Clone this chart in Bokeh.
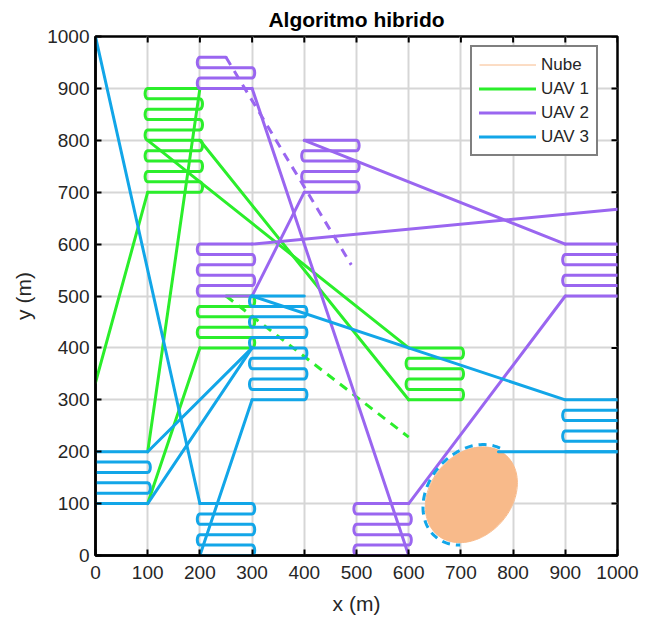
import numpy as np
from bokeh.plotting import figure
from bokeh.models import Range1d, FixedTicker, Legend, LegendItem
from bokeh.embed import file_html
from bokeh.resources import INLINE

# ---------------- data ----------------
ticks = [0, 100, 200, 300, 400, 500, 600, 700, 800, 900, 1000]
sweep_step = 20

# UAV 1 (green): transit segments
uav1_tx0 = [0, 100, 100, 100, 200]
uav1_ty0 = [333, 200, 100, 800, 800]
uav1_tx1 = [100, 200, 200, 600, 600]
uav1_ty1 = [700, 900, 400, 400, 300]
# UAV 1 sweep cells
uav1_cx0 = [100, 200, 600]
uav1_cx1 = [200, 300, 700]
uav1_cy_first = [700, 400, 300]
uav1_cy_last = [900, 500, 400]
uav1_start_left = [True, True, True]
uav1_first_x = [None, None, None]
uav1_last_x = [None, 250, None]
uav1_dash_x = [250, 600]
uav1_dash_y = [500, 228]

# UAV 2 (purple)
uav2_tx0 = [300, 600, 900, 400, 300]
uav2_ty0 = [900, 100, 600, 700, 600]
uav2_tx1 = [600, 900, 400, 300, 1000]
uav2_ty1 = [0, 500, 800, 500, 667]
uav2_cx0 = [200, 400, 200, 900, 500]
uav2_cx1 = [300, 500, 300, 1000, 600]
uav2_cy_first = [960, 800, 500, 500, 0]
uav2_cy_last = [900, 700, 600, 600, 100]
uav2_start_left = [False, True, False, True, False]
uav2_first_x = [250, None, None, None, None]
uav2_last_x = [None, None, None, None, None]
uav2_dash_x = [250, 490]
uav2_dash_y = [960, 560]

# UAV 3 (blue)
uav3_tx0 = [0, 200, 100, 100, 300, 1000]
uav3_ty0 = [1000, 0, 200, 100, 500, 200]
uav3_tx1 = [200, 300, 300, 300, 900, 772]
uav3_ty1 = [100, 300, 400, 400, 300, 200]
uav3_cx0 = [200, 300, 0, 900]
uav3_cx1 = [300, 400, 100, 1000]
uav3_cy_first = [100, 300, 200, 300]
uav3_cy_last = [0, 500, 100, 200]
uav3_start_left = [True, True, False, True]
uav3_first_x = [None, None, None, None]
uav3_last_x = [None, None, None, None]

# Cloud (Nube) ellipse
cloud_cx = 720
cloud_cy = 117
cloud_a = 101
cloud_b = 78
cloud_angle_deg = 50
# UAV 3 detour arc around the cloud (parametric angle range, degrees)
arc_t_start = 11
arc_t_end = 214
arc_scale = 1.05

GREEN = "#2BEE2B"
PURPLE = "#9A66F0"
BLUE = "#12A6E8"
ORANGE = "#F8BA8A"
FONT = "Liberation Sans"


def lawnmower(x0, x1, y_first, y_last, step, start_left, first_x=None, last_x=None, bulge=5):
    n = int(round(abs(y_last - y_first) / step)) + 1
    sgn = 1 if y_last > y_first else -1
    xs, ys = [], []
    left = start_left
    for i in range(n):
        y = y_first + sgn * i * step
        xa, xb = (x0, x1) if left else (x1, x0)
        if i == 0 and first_x is not None:
            xa = first_x
        if i == n - 1 and last_x is not None:
            xb = last_x
        xs += [xa, xb]
        ys += [y, y]
        if i < n - 1:
            ang = np.linspace(-np.pi / 2, np.pi / 2, 9)[1:-1]
            out = 1 if xb == x1 else -1
            yc = y + sgn * step / 2
            xs += list(xb + out * bulge * np.cos(ang))
            ys += list(yc + sgn * (step / 2) * np.sin(ang))
        left = not left
    return xs, ys


def cells(cx0, cx1, cyf, cyl, sl, fx, lx):
    XS, YS = [], []
    for a, b, f, l, s, f_x, l_x in zip(cx0, cx1, cyf, cyl, sl, fx, lx):
        xs, ys = lawnmower(a, b, f, l, sweep_step, s, f_x, l_x)
        XS.append(xs)
        YS.append(ys)
    return XS, YS


def transits(x0, y0, x1, y1):
    return [[a, b] for a, b in zip(x0, x1)], [[a, b] for a, b in zip(y0, y1)]


def ellipse_pts(t_deg, scale=1.0):
    t = np.radians(t_deg)
    th = np.radians(cloud_angle_deg)
    ex = scale * cloud_a * np.cos(t)
    ey = scale * cloud_b * np.sin(t)
    return (cloud_cx + ex * np.cos(th) - ey * np.sin(th),
            cloud_cy + ex * np.sin(th) + ey * np.cos(th))


# ---------------- figure ----------------
p = figure(width=659, height=620, x_range=Range1d(0, 1000), y_range=Range1d(0, 1000),
           output_backend="svg", toolbar_location=None,
           min_border_left=95, min_border_right=42, min_border_top=36, min_border_bottom=65,
           title="Algoritmo hibrido")
p.title.align = "center"
p.title.vertical_align = "middle"
p.title.text_font = FONT
p.title.text_font_size = "21px"
p.title.text_font_style = "bold"
p.title.text_color = "black"

p.outline_line_color = "black"
p.outline_line_width = 2.5
p.outline_line_alpha = 1.0

for ax in (p.xaxis[0], p.yaxis[0]):
    ax.ticker = FixedTicker(ticks=ticks)
    ax.major_tick_in = 6
    ax.major_tick_out = 0
    ax.minor_tick_line_color = None
    ax.major_tick_line_color = "black"
    ax.major_tick_line_width = 2
    ax.axis_line_color = "black"
    ax.axis_line_width = 2.5
    ax.major_label_text_font = FONT
    ax.major_label_text_font_size = "19px"
    ax.major_label_text_color = "#262626"
    ax.axis_label_text_font = FONT
    ax.axis_label_text_font_size = "21px"
    ax.axis_label_text_font_style = "normal"
    ax.axis_label_text_color = "#262626"
p.xaxis.axis_label = "x (m)"
p.yaxis.axis_label = "y (m)"
p.xaxis.major_label_standoff = 10
p.yaxis.major_label_standoff = 6
p.xaxis.axis_label_standoff = 10
p.yaxis.axis_label_standoff = 9

p.xgrid.grid_line_color = "#d6d6d6"
p.ygrid.grid_line_color = "#d6d6d6"
p.xgrid.grid_line_width = 2
p.ygrid.grid_line_width = 2
p.xgrid.ticker = FixedTicker(ticks=ticks)
p.ygrid.ticker = FixedTicker(ticks=ticks)

# inward tick marks on the top and right edges of the box
tick_len = 11.5
n_t = len(ticks)
p.segment(x0=ticks, y0=[1000] * n_t, x1=ticks, y1=[1000 - tick_len] * n_t,
          line_color="black", line_width=2)
p.segment(x0=[1000] * n_t, y0=ticks, x1=[1000 - tick_len] * n_t, y1=ticks,
          line_color="black", line_width=2)

# cloud
p.ellipse(x=[cloud_cx], y=[cloud_cy], width=[2 * cloud_a], height=[2 * cloud_b],
          angle=[np.radians(cloud_angle_deg)], fill_color=ORANGE, line_color=None)
bx, by = ellipse_pts(np.linspace(0, 360, 121))
r_nube = p.line(list(bx), list(by), line_color=ORANGE, line_width=1)

LW = 3
renderers = {}
for name, col, tx0, ty0, tx1, ty1, cdef in [
    ("UAV 1", GREEN, uav1_tx0, uav1_ty0, uav1_tx1, uav1_ty1,
     (uav1_cx0, uav1_cx1, uav1_cy_first, uav1_cy_last, uav1_start_left, uav1_first_x, uav1_last_x)),
    ("UAV 2", PURPLE, uav2_tx0, uav2_ty0, uav2_tx1, uav2_ty1,
     (uav2_cx0, uav2_cx1, uav2_cy_first, uav2_cy_last, uav2_start_left, uav2_first_x, uav2_last_x)),
    ("UAV 3", BLUE, uav3_tx0, uav3_ty0, uav3_tx1, uav3_ty1,
     (uav3_cx0, uav3_cx1, uav3_cy_first, uav3_cy_last, uav3_start_left, uav3_first_x, uav3_last_x)),
]:
    XS, YS = cells(*cdef)
    p.multi_line(XS, YS, line_color=col, line_width=LW, line_join="round", line_cap="round")
    TX, TY = transits(tx0, ty0, tx1, ty1)
    renderers[name] = p.multi_line(TX, TY, line_color=col, line_width=LW, line_cap="round")
    if name == "UAV 1":
        p.line(uav1_dash_x, uav1_dash_y, line_color=col, line_width=LW, line_dash="9 7")
    if name == "UAV 2":
        p.line(uav2_dash_x, uav2_dash_y, line_color=col, line_width=LW, line_dash="9 7")
    if name == "UAV 3":
        ax_, ay_ = ellipse_pts(np.linspace(arc_t_start, arc_t_end, 80), arc_scale)
        p.line(list(ax_), list(ay_), line_color=col, line_width=LW, line_dash="8 6")

legend = Legend(items=[LegendItem(label="Nube", renderers=[r_nube]),
                       LegendItem(label="UAV 1", renderers=[renderers["UAV 1"]]),
                       LegendItem(label="UAV 2", renderers=[renderers["UAV 2"]]),
                       LegendItem(label="UAV 3", renderers=[renderers["UAV 3"]])],
                location=(375, 399))
legend.border_line_color = "black"
legend.border_line_width = 2.5
legend.background_fill_color = "white"
legend.background_fill_alpha = 1.0
legend.label_text_font = FONT
legend.label_text_font_size = "17px"
legend.label_text_color = "#262626"
legend.glyph_width = 57
legend.glyph_height = 21
legend.label_height = 21
legend.spacing = 3
legend.padding = 7
legend.label_standoff = 5
legend.margin = 0
p.add_layout(legend)

open("out.html", "w").write(file_html(p, INLINE))
